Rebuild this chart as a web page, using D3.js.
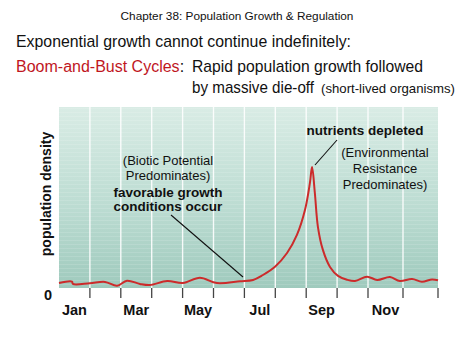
<!DOCTYPE html>
<html><head><meta charset="utf-8">
<script src="https://cdn.jsdelivr.net/npm/d3@7"></script>
<style>
html,body{margin:0;padding:0;background:#fff;}
svg{display:block;font-family:"Liberation Sans",Arial,Helvetica,sans-serif;}
</style></head>
<body>
<svg id="chart" width="474" height="355"></svg>
<script>
// ---- data ----
const monthLabels = ["Jan","Mar","May","Jul","Sep","Nov"];
const monthLabelPos = [0.5, 2.5, 4.5, 6.5, 8.5, 10.5];
const monthBoundaries = [1,2,3,4,5,6,7,8,9,10,11,12];
// time in months since Jan 1
const tMonths = [0, 0.42, 0.45, 1.0, 1.49, 1.88, 2.2, 2.62, 2.94, 3.5, 4.01, 4.56, 5.11, 5.86, 6.28, 6.6, 6.99, 7.38, 7.7, 7.96, 8.12, 8.19, 8.28, 8.38, 8.54, 8.77, 9.03, 9.32, 9.58, 9.97, 10.26, 10.63, 10.91, 11.26, 11.54, 11.83, 12];
const density = [3.8, 4.6, 3.3, 3.7, 4.4, 2.3, 5.1, 3.3, 2.7, 4.9, 3.8, 6.7, 3.8, 4.8, 5.5, 8.2, 12.7, 20.2, 30.1, 43.7, 58.5, 67.2, 53, 34.4, 21.9, 12.6, 7.7, 5.6, 4.9, 7.3, 5.5, 7.1, 4.9, 6.0, 4.5, 5.8, 5.3];
const yTickLabels = ["0"];

const svg = d3.select("#chart");
const x = d3.scaleLinear().domain([0, 10, 12]).range([59, 368, 438]);
const y = d3.scaleLinear().domain([0, 100]).range([290, 107]);
const plotTop = 107, plotBottom = 288;

// background gradient
const defs = svg.append("defs");
const g1 = defs.append("linearGradient").attr("id","bg").attr("x1",0).attr("y1",0).attr("x2",0).attr("y2",1);
g1.append("stop").attr("offset","0%").attr("stop-color","#d9ece5");
g1.append("stop").attr("offset","55%").attr("stop-color","#bcdcd2");
g1.append("stop").attr("offset","100%").attr("stop-color","#9fcabd");
const pat = defs.append("pattern").attr("id","stripes").attr("width",4).attr("height",4).attr("patternUnits","userSpaceOnUse");
pat.append("rect").attr("width",4).attr("height",1).attr("fill","#ffffff").attr("opacity",0.12);

svg.append("rect").attr("x", x(0)).attr("y", plotTop).attr("width", x(12)-x(0)).attr("height", plotBottom-plotTop).attr("fill","url(#bg)");
svg.append("rect").attr("x", x(0)).attr("y", plotTop).attr("width", x(12)-x(0)).attr("height", plotBottom-plotTop).attr("fill","url(#stripes)");

// white month gridlines
svg.append("g").selectAll("line").data(monthBoundaries.slice(0,-1)).join("line")
  .attr("x1", d=>x(d)).attr("x2", d=>x(d)).attr("y1", plotTop).attr("y2", plotBottom)
  .attr("stroke","#ffffff").attr("stroke-width",1.4).attr("opacity",0.9);

// axis ticks
svg.append("g").selectAll("line").data(monthBoundaries).join("line")
  .attr("x1", d=>x(d)).attr("x2", d=>x(d)).attr("y1", plotBottom).attr("y2", plotBottom+10)
  .attr("stroke","#444").attr("stroke-width",1.3);

// month labels
svg.append("g").selectAll("text").data(monthLabels).join("text")
  .attr("x", (d,i)=>x(monthLabelPos[i])).attr("y", 315)
  .attr("text-anchor","middle").attr("font-weight","bold").attr("font-size",14.5).attr("fill","#111")
  .text(d=>d);

// y tick label
svg.append("g").selectAll("text").data(yTickLabels).join("text")
  .attr("x", 48).attr("y", 300).attr("text-anchor","middle")
  .attr("font-weight","bold").attr("font-size",14.5).attr("fill","#111").text(d=>d);

// y axis title
svg.append("text").attr("transform","translate(51,194) rotate(-90)")
  .attr("text-anchor","middle").attr("font-weight","bold").attr("font-size",14).attr("fill","#111")
  .text("population density");

// curve
const line = d3.line().x((d,i)=>x(tMonths[i])).y(d=>y(d)).curve(d3.curveCatmullRom.alpha(0.5));
svg.append("path").datum(density).attr("d", line)
  .attr("fill","none").attr("stroke","#cc2b2b").attr("stroke-width",2).attr("stroke-linejoin","round");

// annotation pointer lines
svg.append("line").attr("x1",171).attr("y1",215).attr("x2",243).attr("y2",277).attr("stroke","#111").attr("stroke-width",1.1);
svg.append("line").attr("x1",337).attr("y1",140).attr("x2",315).attr("y2",165).attr("stroke","#111").attr("stroke-width",1.1);

// annotations
function txt(xp, yp, s, opts={}) {
  const t = svg.append("text").attr("x",xp).attr("y",yp).attr("text-anchor",opts.anchor||"middle")
    .attr("font-size",opts.size||12.5).attr("font-weight",opts.bold?"bold":"normal")
    .attr("fill",opts.fill||"#111").text(s);
  if (opts.len) t.attr("textLength",opts.len).attr("lengthAdjust","spacingAndGlyphs");
  return t;
}
txt(168,165,"(Biotic Potential",{size:13});
txt(168,180,"Predominates)",{size:13});
txt(168,197,"favorable growth",{bold:true,size:13.5});
txt(168,211,"conditions occur",{bold:true,size:13.5});
txt(365,135,"nutrients depleted",{bold:true,size:13.5});
txt(385,157,"(Environmental",{size:13});
txt(385,173,"Resistance",{size:13});
txt(385,189,"Predominates)",{size:13});

// titles
txt(237,20,"Chapter 38: Population Growth & Regulation",{size:11.8});
txt(16,47,"Exponential growth cannot continue indefinitely:",{anchor:"start",size:17,len:335});
const bb = svg.append("text").attr("x",16).attr("y",72).attr("font-size",16).attr("fill","#111");
bb.append("tspan").attr("fill","#c0161e").text("Boom-and-Bust Cycles");
bb.append("tspan").text(":");
txt(192,72,"Rapid population growth followed",{anchor:"start",size:17,len:231});
txt(192,93,"by massive die-off",{anchor:"start",size:17,len:122});
txt(321,93,"(short-lived organisms)",{anchor:"start",size:13,len:134});
</script>
</body></html>
